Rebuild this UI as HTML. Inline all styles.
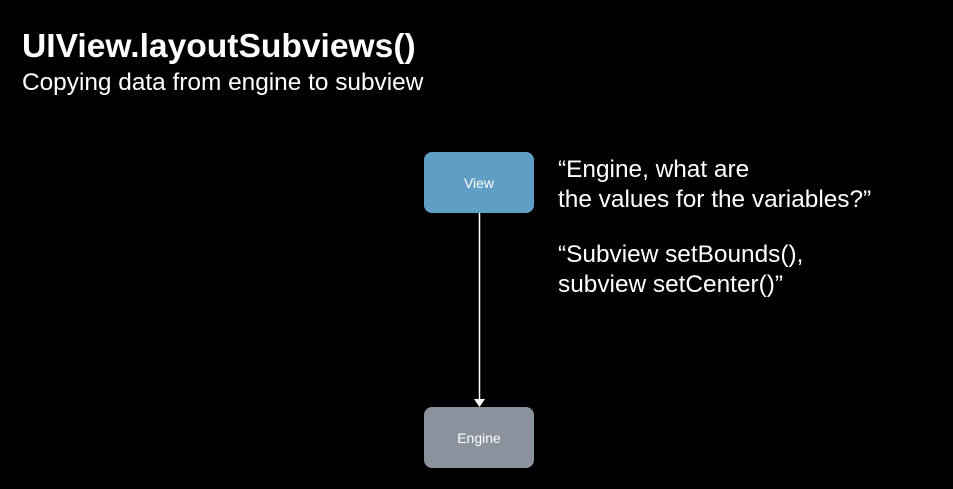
<!DOCTYPE html>
<html><head><meta charset="utf-8"><style>
html,body{margin:0;padding:0;background:#000;width:953px;height:489px;overflow:hidden;font-family:"Liberation Sans",sans-serif;color:#fff}
.t{position:absolute;left:22px;top:28px;font-size:33.6px;font-weight:bold;white-space:nowrap}
.s{position:absolute;left:22px;top:69px;font-size:24.4px;white-space:nowrap}
.box{position:absolute;left:424px;width:110px;height:61px;border-radius:8px;display:flex;align-items:center;justify-content:center;font-size:14px}
.q{position:absolute;left:558px;font-size:24.4px;line-height:30px;white-space:nowrap}
</style></head><body>
<div class="t">UIView.layoutSubviews()</div>
<div class="s">Copying data from engine to subview</div>
<div class="box" style="top:152px;background:#5f9fc6">View</div>
<div class="box" style="top:407px;background:#8a929d">Engine</div>
<svg style="position:absolute;left:0;top:0" width="953" height="489">
<line x1="479.5" y1="213" x2="479.5" y2="400" stroke="#fff" stroke-width="1.5"/>
<polygon points="474,399 485,399 479.5,407" fill="#fff"/>
</svg>
<div class="q" style="top:155px">“Engine, what are<br>the values for the variables?”</div>
<div class="q" style="top:240px">“Subview setBounds(),<br>subview setCenter()”</div>
</body></html>
